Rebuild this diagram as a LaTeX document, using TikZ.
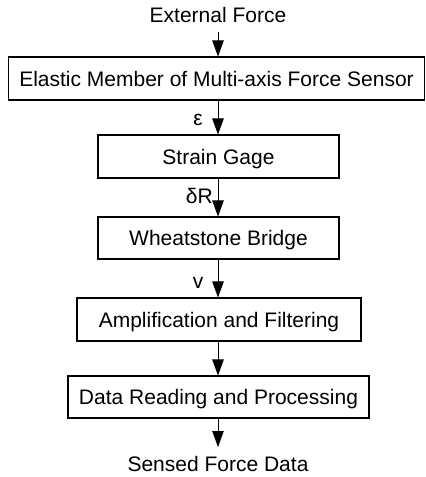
\documentclass[tikz,border=0pt]{standalone}
\usepackage{fontspec}
\setmainfont{Liberation Sans}
\usetikzlibrary{arrows.meta}
\begin{document}
\begin{tikzpicture}[x=1pt,y=-1pt,
  every node/.style={font=\fontsize{21}{25}\selectfont},
  blk/.style={draw, line width=1.1pt, inner sep=0pt, text height=15pt, text depth=0pt, align=center},
  lbl/.style={inner sep=0pt, text height=15pt, text depth=0pt},
  arr/.style={line width=0.8pt, -{Triangle[length=16pt,width=11.5pt]}}]
\useasboundingbox (0,0) rectangle (426,477);
\node[lbl] (ext) at (218,15) {External Force};
\node[blk, minimum width=416pt, minimum height=43pt] (b1) at (216.5,78.5) {Elastic Member of Multi-axis Force Sensor};
\node[blk, minimum width=241pt, minimum height=43pt] (b2) at (218.5,156.5) {Strain Gage};
\node[blk, minimum width=241pt, minimum height=42pt] (b3) at (218.5,238) {Wheatstone Bridge};
\node[blk, minimum width=284pt, minimum height=43pt] (b4) at (219,319.5) {Amplification and Filtering};
\node[blk, minimum width=301pt, minimum height=42pt] (b5) at (218.5,397) {Data Reading and Processing};
\node[lbl] (out) at (218,464) {Sensed Force Data};
\coordinate (t0) at (218,31.5);
\coordinate (t6) at (218,447);
\draw[arr] (t0) -- (t0 |- b1.north);
\draw[arr] (b1.south -| t0) -- (b2.north -| t0);
\draw[arr] (b2.south -| t0) -- (b3.north -| t0);
\draw[arr] (b3.south -| t0) -- (b4.north -| t0);
\draw[arr] (b4.south -| t0) -- (b5.north -| t0);
\draw[arr] (b5.south -| t0) -- (t6);
\node[inner sep=0pt, anchor=base] (eps) at (198,125) {ε};
\node[inner sep=0pt, anchor=base east] (dr) at (213,203) {δR};
\node[inner sep=0pt, anchor=base] (vv) at (198,288) {v};
\end{tikzpicture}
\end{document}
